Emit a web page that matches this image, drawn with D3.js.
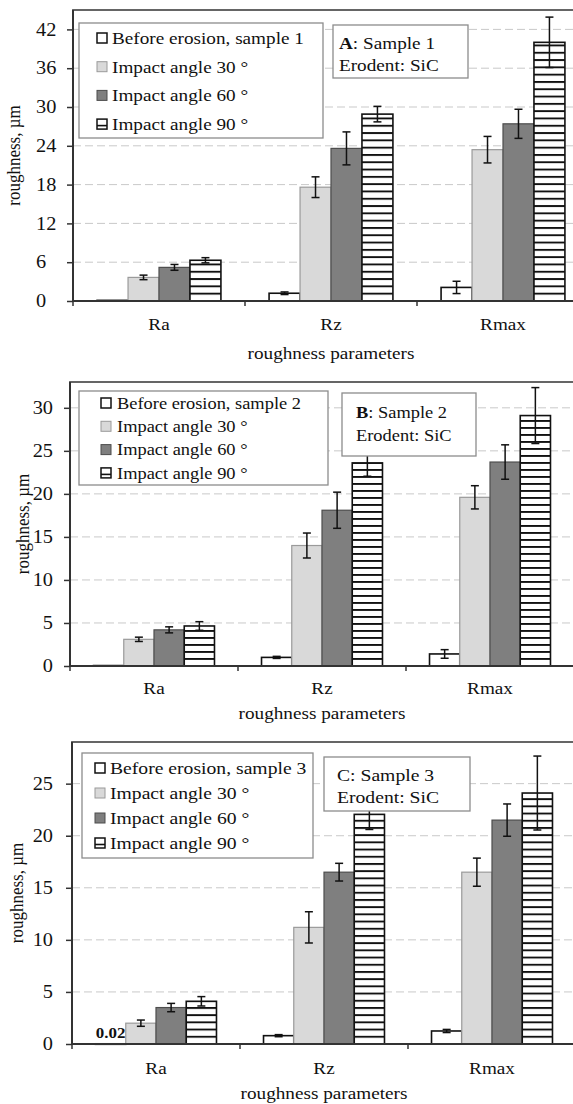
<!DOCTYPE html>
<html>
<head>
<meta charset="utf-8">
<title>Roughness parameters</title>
<script src="https://cdn.jsdelivr.net/npm/d3@7"></script>
<style>
body { margin: 0; background: #fff; }
svg text { font-family: "Liberation Serif", "Times New Roman", serif; fill: #111; }
</style>
</head>
<body>
<svg id="chart" width="573" height="1104"></svg>
<script>
// categories / series
const params = ['Ra', 'Rz', 'Rmax'];
const seriesKeys = ['before', 'a30', 'a60', 'a90'];
const seriesLabels = ['Before erosion, sample ', 'Impact angle 30 °', 'Impact angle 60 °', 'Impact angle 90 °'];

// panel A, sample 1
const beforeA = [0.1, 1.2, 2.1];
const errBeforeA = [0, 0.2, 0.95];
const deg30A = [3.65, 17.6, 23.4];
const err30A = [0.35, 1.6, 2.05];
const deg60A = [5.2, 23.6, 27.4];
const err60A = [0.45, 2.55, 2.25];
const deg90A = [6.3, 28.9, 40.0];
const err90A = [0.4, 1.2, 3.9];
const ticksA = [0, 6, 12, 18, 24, 30, 36, 42];

// panel B, sample 2
const beforeB = [0.05, 1.0, 1.4];
const errBeforeB = [0, 0.12, 0.5];
const deg30B = [3.1, 14.0, 19.6];
const err30B = [0.25, 1.45, 1.35];
const deg60B = [4.2, 18.1, 23.7];
const err60B = [0.35, 2.1, 2.0];
const deg90B = [4.65, 23.6, 29.1];
const err90B = [0.5, 1.55, 3.25];
const ticksB = [0, 5, 10, 15, 20, 25, 30];

// panel C, sample 3
const beforeC = [0.02, 0.8, 1.25];
const errBeforeC = [0, 0.1, 0.15];
const deg30C = [2.0, 11.2, 16.5];
const err30C = [0.3, 1.5, 1.35];
const deg60C = [3.5, 16.5, 21.5];
const err60C = [0.4, 0.85, 1.55];
const deg90C = [4.1, 22.05, 24.1];
const err90C = [0.45, 1.45, 3.55];
const ticksC = [0, 5, 10, 15, 20, 25];

const SX = 1.13; // glyphs in the picture are a bit wider than tall
const svg = d3.select('#chart');

const fills = { before: '#fff', a30: '#d9d9d9', a60: '#7f7f7f' };
const strokes = { before: '#111', a30: '#9a9a9a', a60: '#4d4d4d', a90: '#111' };

function txt(g, x, y, s, size, anchor) {
  return g.append('text')
    .attr('transform', `translate(${x},${y}) scale(${SX},1)`)
    .attr('dy', '0.35em')
    .attr('text-anchor', anchor || 'start')
    .style('font-size', size + 'px')
    .text(s);
}

function drawPanel(p) {
  const g = svg.append('g');
  const y = d3.scaleLinear().domain([0, p.ymax]).range([p.base, p.top]);
  const x0 = d3.scaleBand().domain(params).range([p.left, p.right]);
  const gap = x0.bandwidth() * 0.14;
  const x1 = d3.scaleBand().domain(seriesKeys).range([gap, x0.bandwidth() - gap]);

  // hatch pattern, anchored on the baseline
  const pat = g.append('defs').append('pattern')
    .attr('id', 'hatch' + p.id)
    .attr('patternUnits', 'userSpaceOnUse')
    .attr('width', 8).attr('height', p.hatch)
    .attr('y', p.base - 1);
  pat.append('rect').attr('width', 8).attr('height', p.hatch).attr('fill', '#fff');
  pat.append('rect').attr('width', 8).attr('height', 1.9).attr('fill', '#111');

  // grid
  g.selectAll('.grid').data(p.ticks.filter(d => d > 0)).join('line')
    .attr('x1', p.left).attr('x2', p.right)
    .attr('y1', d => y(d)).attr('y2', d => y(d))
    .style('stroke', '#c9c9c9').style('stroke-dasharray', '8,4').style('stroke-width', 1);

  // plot frame
  g.append('rect')
    .attr('x', p.left).attr('y', p.top)
    .attr('width', p.right - p.left).attr('height', p.base - p.top)
    .style('fill', 'none').style('stroke', '#555').style('stroke-width', 1.8);

  // bars
  const rows = params.map((c, i) => ({ c, i }));
  const grp = g.selectAll('.grp').data(rows).join('g')
    .attr('transform', d => `translate(${x0(d.c)},0)`);
  grp.each(function(d) {
    const gg = d3.select(this);
    p.series.forEach((s, k) => {
      const key = seriesKeys[k];
      const v = s.vals[d.i];
      gg.append('rect')
        .attr('x', x1(key)).attr('width', x1.bandwidth())
        .attr('y', y(v)).attr('height', Math.max(0.5, y(0) - y(v)))
        .style('fill', key === 'a90' ? `url(#hatch${p.id})` : fills[key])
        .style('stroke', strokes[key])
        .style('stroke-width', key === 'a30' || key === 'a60' ? 1.2 : 1.6);
    });
  });
  // error bars drawn after all bars
  grp.each(function(d) {
    const gg = d3.select(this);
    p.series.forEach((s, k) => {
      const e = s.err[d.i];
      if (!e) return;
      const v = s.vals[d.i];
      const cx = x1(seriesKeys[k]) + x1.bandwidth() / 2;
      const eb = gg.append('g').style('stroke', '#111').style('stroke-width', 1.5);
      eb.append('line').attr('x1', cx).attr('x2', cx).attr('y1', y(v - e)).attr('y2', y(v + e));
      [v - e, v + e].forEach(t => {
        eb.append('line').attr('x1', cx - 4).attr('x2', cx + 4).attr('y1', y(t)).attr('y2', y(t));
      });
    });
  });

  if (p.dataLabel) {
    const v = p.series[0].vals[0];
    txt(g, x0('Ra') + x1('before') + x1.bandwidth() / 2, y(v) - 11, d3.format('.2f')(v), 15, 'middle')
      .style('font-weight', 'bold');
  }

  // y axis
  const ya = g.append('g').attr('transform', `translate(${p.left},0)`)
    .call(d3.axisLeft(y).tickValues(p.ticks).tickSize(6).tickSizeOuter(0));
  ya.select('.domain').remove();
  ya.selectAll('line').style('stroke', '#333').style('stroke-width', 1.5);
  ya.selectAll('text')
    .attr('x', p.tickX / SX)
    .attr('text-anchor', p.tickAnchor)
    .attr('transform', `scale(${SX},1)`)
    .style('font-size', p.tickFont + 'px');
  g.append('line').attr('x1', p.left).attr('x2', p.left).attr('y1', p.top).attr('y2', p.base)
    .style('stroke', '#333').style('stroke-width', 2);

  // x axis
  const xa = g.append('g').attr('transform', `translate(0,${p.base})`)
    .call(d3.axisBottom(x0).tickSize(0).tickPadding(0));
  xa.select('.domain').remove();
  xa.selectAll('text').remove();
  params.forEach(c => txt(g, x0(c) + x0.bandwidth() / 2, p.base + p.catY, c, p.font, 'middle'));
  g.append('line').attr('x1', p.left).attr('x2', p.right).attr('y1', p.base).attr('y2', p.base)
    .style('stroke', '#333').style('stroke-width', 2);
  g.selectAll('.xt').data(params).join('line')
    .attr('x1', d => x0(d)).attr('x2', d => x0(d))
    .attr('y1', p.base).attr('y2', p.base + 5)
    .style('stroke', '#333').style('stroke-width', 1.5);

  txt(g, (p.left + p.right) / 2, p.base + p.titleY, 'roughness parameters', p.font, 'middle');
  g.append('text')
    .attr('transform', `translate(${p.yTitleX},${(p.top + p.base) / 2}) rotate(-90) scale(1,${SX})`)
    .attr('dy', '0.35em')
    .attr('text-anchor', 'middle')
    .style('font-size', p.font + 'px')
    .text('roughness, µm');

  // legend
  const L = p.legend;
  g.append('rect').attr('x', L.x).attr('y', L.y).attr('width', L.w).attr('height', L.h)
    .style('fill', '#fff').style('stroke', '#8c8c8c').style('stroke-width', 1.3);
  seriesKeys.forEach((key, k) => {
    const ry = L.y + L.first + k * L.step;
    g.append('rect').attr('x', L.mx).attr('y', ry - 5).attr('width', 10).attr('height', 10)
      .style('fill', key === 'a90' ? '#fff' : fills[key])
      .style('stroke', strokes[key]).style('stroke-width', key === 'a30' || key === 'a60' ? 1 : 1.5);
    if (key === 'a90') {
      g.append('line').attr('x1', L.mx).attr('x2', L.mx + 10).attr('y1', ry + 1.5).attr('y2', ry + 1.5)
        .style('stroke', '#111').style('stroke-width', 1.6);
    }
    txt(g, L.tx, ry, k === 0 ? seriesLabels[0] + p.sample : seriesLabels[k], p.legendFont);
  });

  // sample note
  const N = p.note;
  g.append('rect').attr('x', N.x).attr('y', N.y).attr('width', N.w).attr('height', N.h)
    .style('fill', '#fff').style('stroke', '#8c8c8c').style('stroke-width', 1.3);
  const t1 = txt(g, N.tx, N.l1, '', p.legendFont);
  t1.append('tspan').style('font-weight', p.boldId ? 'bold' : 'normal').text(p.id);
  t1.append('tspan').text(': Sample ' + p.sample);
  txt(g, N.tx, N.l2, 'Erodent: SiC', p.legendFont);
}

function pack(b, eb, a3, e3, a6, e6, a9, e9) {
  return [
    { vals: b, err: eb }, { vals: a3, err: e3 },
    { vals: a6, err: e6 }, { vals: a9, err: e9 }
  ];
}

drawPanel({
  id: 'A', sample: 1, boldId: true,
  top: 10, base: 301, left: 73, right: 589, ymax: 45, ticks: ticksA,
  font: 17, tickFont: 18, tickX: -37, tickAnchor: 'start',
  legendFont: 17, hatch: 7.3, catY: 23, titleY: 52, yTitleX: 13,
  series: pack(beforeA, errBeforeA, deg30A, err30A, deg60A, err60A, deg90A, err90A),
  legend: { x: 79, y: 23, w: 244, h: 115, first: 15, step: 28.7, mx: 97, tx: 112 },
  note: { x: 333, y: 25, w: 135, h: 53, tx: 339, l1: 43, l2: 65 }
});

drawPanel({
  id: 'B', sample: 2, boldId: true,
  top: 382, base: 666, left: 70, right: 574, ymax: 33, ticks: ticksB,
  font: 17, tickFont: 18, tickX: -17, tickAnchor: 'end',
  legendFont: 16.3, hatch: 7, catY: 22, titleY: 47, yTitleX: 22,
  series: pack(beforeB, errBeforeB, deg30B, err30B, deg60B, err60B, deg90B, err90B),
  legend: { x: 79, y: 391, w: 249, h: 94, first: 12, step: 23.3, mx: 101, tx: 117 },
  note: { x: 342, y: 393, w: 134, h: 63, tx: 356, l1: 412, l2: 435 }
});

drawPanel({
  id: 'C', sample: 3, boldId: false, dataLabel: true,
  top: 742, base: 1044, left: 72, right: 576, ymax: 29, ticks: ticksC,
  font: 17, tickFont: 18, tickX: -19, tickAnchor: 'end',
  legendFont: 17.4, hatch: 7.2, catY: 24, titleY: 49, yTitleX: 16,
  series: pack(beforeC, errBeforeC, deg30C, err30C, deg60C, err60C, deg90C, err90C),
  legend: { x: 82, y: 753, w: 231, h: 105, first: 15, step: 25, mx: 95, tx: 110 },
  note: { x: 324, y: 757, w: 146, h: 54, tx: 337, l1: 775, l2: 797 }
});
</script>
</body>
</html>
